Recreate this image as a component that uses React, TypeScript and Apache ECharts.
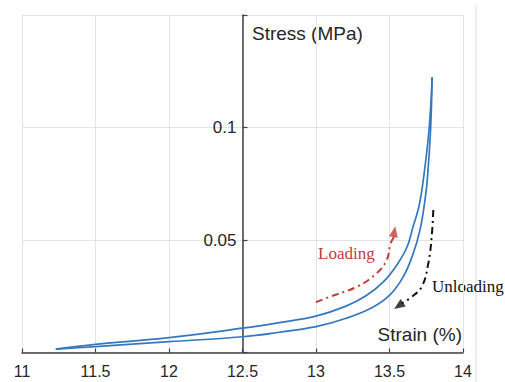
import React, { useEffect, useRef } from "react";
import * as echarts from "echarts";

const strainTicks = [11, 11.5, 12, 12.5, 13, 13.5, 14];
const stressTickLabels = [0.05, 0.1];

const loadingStrain = [11.23, 11.5, 12.0, 12.5, 12.75, 13.0, 13.2, 13.34, 13.46, 13.55, 13.62, 13.66, 13.7, 13.73, 13.77, 13.79];
const loadingStress = [0.0015, 0.0036, 0.0066, 0.0108, 0.0133, 0.0162, 0.0205, 0.0252, 0.0315, 0.0389, 0.047, 0.0559, 0.0648, 0.0767, 0.0998, 0.1223];

const unloadingStrain = [13.79, 13.78, 13.757, 13.735, 13.707, 13.662, 13.594, 13.503, 13.38, 13.2, 13.0, 12.75, 12.5, 12.0, 11.5, 11.23];
const unloadingStress = [0.1223, 0.0998, 0.0767, 0.0648, 0.0544, 0.0441, 0.0337, 0.0256, 0.0199, 0.0151, 0.0115, 0.009, 0.007, 0.0048, 0.0026, 0.0015];

const loadArrowStrain = [13.0, 13.095, 13.277, 13.413, 13.481, 13.508, 13.531];
const loadArrowStress = [0.0224, 0.0248, 0.0292, 0.0352, 0.0411, 0.0485, 0.0515];
const loadArrowHead = [13.533, 0.0537];

const unloadArrowStrain = [13.798, 13.787, 13.764, 13.719, 13.639, 13.583];
const unloadArrowStress = [0.0633, 0.0515, 0.0396, 0.0292, 0.0241, 0.0219];
const unloadArrowHead = [13.562, 0.0207];

const zip = (a: number[], b: number[]) => a.map((v, i) => [v, b[i]]);

const W = 505;
const H = 382;
const gridLeft = 22;
const gridRight = 42;
const xMin = 11;
const xMax = 14;
const yAxisAt = 12.5;

export default function App() {
  const ref = useRef<HTMLDivElement>(null);
  useEffect(() => {
    if (!ref.current) return;
    const chart = echarts.init(ref.current, null, { renderer: "svg" });
    const gridWidth = W - gridLeft - gridRight;
    const yOffset = -((yAxisAt - xMin) / (xMax - xMin)) * gridWidth;
    const blue = "#3478be";
    const red = "#c43b3b";
    const axisColor = "#404040";
    const textColor = "#262626";
    const sans = "'Liberation Sans', Arial, sans-serif";
    const serif = "'Liberation Serif', 'Times New Roman', serif";
    chart.setOption({
      animation: false,
      backgroundColor: "#ffffff",
      grid: { left: gridLeft, right: gridRight, top: 15, bottom: 29.5, containLabel: false },
      xAxis: {
        type: "value",
        min: xMin,
        max: xMax,
        interval: 0.5,
        axisLine: { show: true, onZero: false, lineStyle: { color: axisColor, width: 1.5 } },
        axisTick: { show: true, inside: true, length: 4, lineStyle: { color: axisColor, width: 1.2 } },
        axisLabel: {
          show: true,
          margin: 11,
          fontSize: 16,
          fontFamily: sans,
          color: textColor,
          formatter: (v: number) => (strainTicks.some((t) => Math.abs(t - v) < 1e-9) ? String(v) : ""),
        },
        splitLine: { show: true, lineStyle: { color: "#e3e3e3", width: 1 } },
      },
      yAxis: {
        type: "value",
        min: 0,
        max: 0.15,
        interval: 0.05,
        position: "left",
        offset: yOffset,
        axisLine: { show: true, lineStyle: { color: axisColor, width: 1.5 } },
        axisTick: { show: true, inside: true, length: 5, lineStyle: { color: axisColor, width: 1.2 } },
        axisLabel: {
          show: true,
          margin: 6,
          fontSize: 17,
          fontFamily: sans,
          color: textColor,
          padding: [4, 0, 0, 0],
          formatter: (v: number) =>
            stressTickLabels.some((t) => Math.abs(t - v) < 1e-9) ? String(Math.round(v * 100) / 100) : "",
        },
        splitLine: { show: true, lineStyle: { color: "#e3e3e3", width: 1 } },
      },
      series: [
        {
          type: "line",
          data: zip(loadingStrain, loadingStress),
          smooth: 0.4,
          symbol: "none",
          lineStyle: { color: blue, width: 1.7 },
          z: 3,
        },
        {
          type: "line",
          data: zip(unloadingStrain, unloadingStress),
          smooth: 0.4,
          symbol: "none",
          lineStyle: { color: blue, width: 1.7 },
          z: 3,
        },
        {
          type: "line",
          data: zip(loadArrowStrain, loadArrowStress),
          smooth: 0.4,
          symbol: "none",
          lineStyle: { color: red, width: 2, type: [7, 4, 2, 4] },
          z: 4,
        },
        {
          type: "scatter",
          data: [loadArrowHead],
          symbol: "triangle",
          symbolSize: [9, 11],
          symbolRotate: -10,
          itemStyle: { color: red },
          z: 5,
        },
        {
          type: "line",
          data: zip(unloadArrowStrain, unloadArrowStress),
          smooth: 0.4,
          symbol: "none",
          lineStyle: { color: "#111111", width: 2, type: [7, 4, 2, 4] },
          z: 4,
        },
        {
          type: "scatter",
          data: [unloadArrowHead],
          symbol: "triangle",
          symbolSize: [9, 11],
          symbolRotate: 124,
          itemStyle: { color: "#111111" },
          z: 5,
        },
      ],
      graphic: [
        {
          type: "line",
          shape: { x1: 476, y1: 5, x2: 476, y2: H },
          style: { stroke: "#dddddd", lineWidth: 1 },
          silent: true,
        },
        {
          type: "text",
          x: 252,
          y: 33,
          style: { text: "Stress (MPa)", fill: textColor, font: `19px ${sans}`, textAlign: "left", textVerticalAlign: "middle" },
        },
        {
          type: "text",
          x: 462,
          y: 334,
          style: { text: "Strain (%)", fill: textColor, font: `19px ${sans}`, textAlign: "right", textVerticalAlign: "middle" },
        },
        {
          type: "text",
          x: 318,
          y: 253,
          style: { text: "Loading", fill: red, font: `17px ${serif}`, textAlign: "left", textVerticalAlign: "middle" },
        },
        {
          type: "text",
          x: 432,
          y: 286,
          style: { text: "Unloading", fill: "#111111", font: `17px ${serif}`, textAlign: "left", textVerticalAlign: "middle" },
        },
      ],
    });
    return () => chart.dispose();
  }, []);
  return <div ref={ref} style={{ position: "fixed", left: 0, top: 0, width: W, height: H, background: "#fff" }} />;
}
